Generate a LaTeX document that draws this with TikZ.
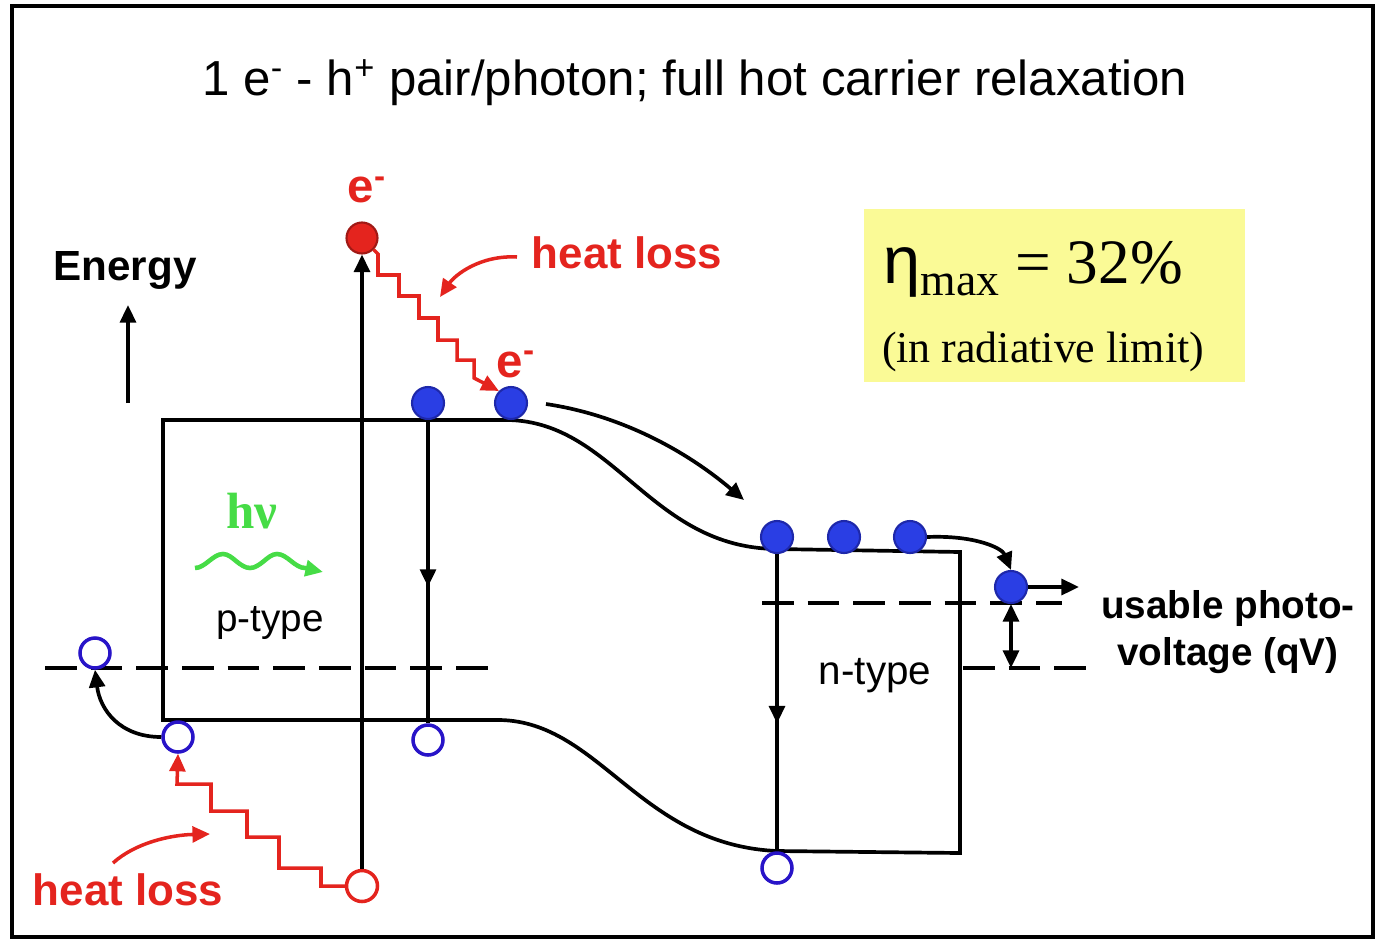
\documentclass[tikz,border=0pt]{standalone}
\usepackage{fontspec}
\setmainfont{Liberation Sans}
\newfontfamily\tms{Liberation Serif}
\usetikzlibrary{arrows.meta,decorations.markings,calc}
\definecolor{myred}{RGB}{228,36,30}
\definecolor{eblue}{RGB}{42,62,228}
\definecolor{eblueD}{RGB}{30,40,170}
\definecolor{hblue}{RGB}{40,20,200}
\definecolor{mygreen}{RGB}{70,220,70}
\definecolor{myyellow}{RGB}{250,250,150}
\tikzset{
  tip/.tip={Triangle[length=10pt,width=9pt]},
  efill/.style={circle,fill=eblue,draw=eblueD,line width=1.2pt,minimum size=0.64cm,inner sep=0pt},
  eredfill/.style={circle,fill=myred,draw=myred!70!black,line width=1.2pt,minimum size=0.62cm,inner sep=0pt},
  hole/.style={circle,draw=hblue,fill=white,line width=2pt,minimum size=0.6cm,inner sep=0pt},
  hred/.style={circle,draw=myred,fill=white,line width=2pt,minimum size=0.62cm,inner sep=0pt},
  fermi/.style={dash pattern=on 18pt off 8pt},
  midarrow/.style={postaction={decorate},decoration={markings,mark=at position #1 with {\arrow{tip}}}},
  zig/.style={draw=myred,line width=2pt,-tip},
  redlbl/.style={text=myred,font=\bfseries\fontsize{25}{30}\selectfont},
  elbl/.style={text=myred,font=\bfseries\fontsize{27}{30}\selectfont},
}
\begin{document}
\begin{tikzpicture}[x=0.02cm,y=-0.02cm,line width=2.1pt]
\useasboundingbox (0,0) rectangle (1375,940);
\draw[line width=2.2pt] (12,6) rectangle (1373,937);

% title
\node (title) at (695,83) {\fontsize{28}{32}\selectfont 1 e\textsuperscript{-} - h\textsuperscript{+} pair/photon; full hot carrier relaxation};

% bands
\draw (163,720) -- (163,420) -- (508,420) .. controls (615,422) and (650,548) .. (777,549) -- (960,552) -- (960,853) -- (777,851) .. controls (640,845) and (600,722) .. (500,720) -- cycle;

% Fermi levels
\draw[fermi] (45,668) -- (490,668);
\draw[fermi] (762,603) -- (1062,603);
\draw[fermi] (963,668) -- (1087,668);

% yellow box
\node[fill=myyellow,minimum width=7.62cm,minimum height=3.46cm,anchor=north west,inner sep=0pt] (ybox) at (862,207) {};
\node[anchor=base west,inner sep=0pt] (eta) at (882,283) {{\fontsize{38}{40}\selectfont η}{\tms\fontsize{26}{30}\selectfont\raisebox{-7pt}{max}}{\tms\fontsize{36}{40}\selectfont\ = 32\%}};
\node[anchor=base,inner sep=0pt] (radlim) at (1043,362) {\tms\fontsize{25}{30}\selectfont (in radiative limit)};

% labels
\node (energy) at (125,270) {\bfseries\fontsize{24}{28}\selectfont Energy};
\coordinate (en0) at (128,403);
\coordinate (en1) at (128,305);
\draw[-tip] (en0) -- (en1);
\node (ptype) at (270,623) {\fontsize{22}{26}\selectfont p-type};
\node (ntype) at (875,676) {\fontsize{23}{26}\selectfont n-type};
\node[align=center,font=\bfseries\fontsize{22}{27}\selectfont] (usable) at (1228,632) {usable photo-\\voltage (qV)};
\node[text=mygreen,font=\tms\bfseries\fontsize{29}{32}\selectfont] (hnu) at (252,511) {hν};
\draw[mygreen,line width=2.6pt,-tip] (195,568) cos (209,561) sin (223,554) cos (236,561) sin (250,568) cos (264,561) sin (277,554) cos (291,561) sin (305,568) -- (323,572);

% carriers
\node[eredfill] (e0) at (362,238) {};
\node[elbl] (e0l) at (367,190) {e\textsuperscript{-}};
\node[efill] (e1) at (428,403) {};
\node[efill] (e2) at (511,403) {};
\node[elbl] (e2l) at (516,364) {e\textsuperscript{-}};
\node[efill] (e3) at (777,537) {};
\node[efill] (e4) at (844,537) {};
\node[efill] (e5) at (910,537) {};
\node[efill] (e6) at (1011,587) {};
\node[hole] (h1) at (95,653) {};
\node[hole] (h2) at (178,737) {};
\node[hole] (h3) at (428,740) {};
\node[hole] (h4) at (777,868) {};
\node[hred] (h0) at (362,886) {};

% heat loss labels
\node[redlbl] (hl1) at (627,253) {heat loss};
\node[redlbl] (hl2) at (128,890) {heat loss};
\coordinate (hl1a) at (517,257);
\coordinate (hl1b) at (440,297);
\draw[myred,line width=2pt,-tip] (hl1a) .. controls (480,255) and (455,275) .. (hl1b);
\coordinate (hl2a) at (113,863);
\coordinate (hl2b) at (210,834);
\draw[myred,line width=2pt,-tip] (hl2a) .. controls (135,843) and (170,835) .. (hl2b);

% transitions
\draw[-tip] (h0.north) -- (e0.south);
\draw[midarrow=0.55] (e1.south) -- (h3.north);
\draw[midarrow=0.57] (e3.south) -- (h4.north);
\draw[-tip] (h2.west) .. controls (120,737) and (100,710) .. (h1.south);

% zigzags
\draw[zig] (e0.south east) -- (378,254) -- (378,275) -- (399,275) -- (399,296) -- (419,296) -- (419,318) -- (438,318) -- (438,340) -- (457,340) -- (457,360) -- (474,360) -- (474,378) -- (e2.north west);
\draw[zig] (h0.west) -- (321,886) -- (321,868) -- (279,868) -- (279,837) -- (247,837) -- (247,811) -- (211,811) -- (211,784) -- (177,784) -- (h2.south);

% electron transport
\coordinate (tr0) at (546,404);
\coordinate (tr1) at (744,500);
\draw[-tip] (tr0) .. controls (620,415) and (685,450) .. (tr1);
\draw[-tip] (e5.east) .. controls (975,535) and (1002,548) .. (e6.north);
\coordinate (out) at (1079,587);
\draw[-tip] (e6.east) -- (out);
\coordinate (qv) at (1011,668);
\draw[tip-tip] (e6.south) -- (qv);
\end{tikzpicture}
\end{document}
